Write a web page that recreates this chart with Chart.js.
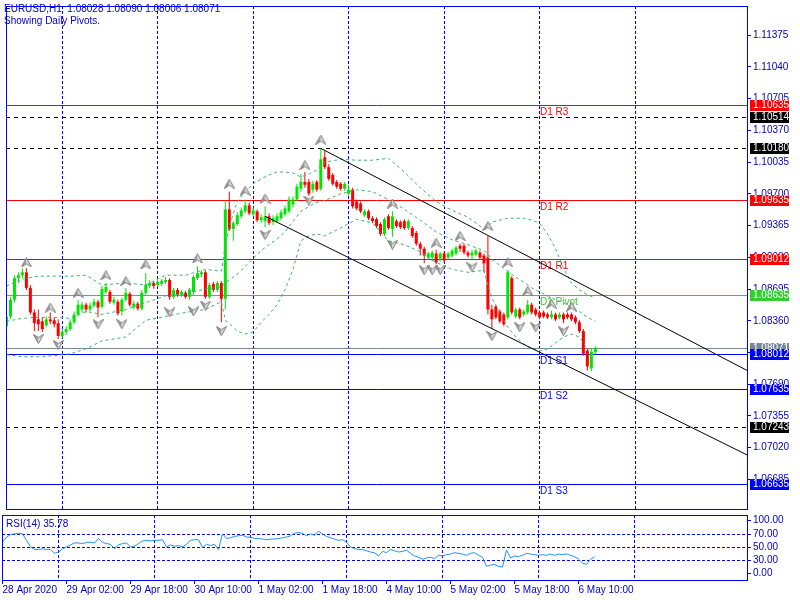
<!DOCTYPE html>
<html>
<head>
<meta charset="utf-8">
<script src="https://cdn.jsdelivr.net/npm/chart.js@4.4.1/dist/chart.umd.min.js"></script>
<style>
  html, body { margin: 0; padding: 0; background: #fff; }
  #wrap { position: relative; width: 800px; height: 600px; overflow: hidden; }
  canvas { position: absolute; left: 0; }
  #mainChart { top: 0; }
  #rsiChart { top: 514px; }
</style>
</head>
<body>
<div id="wrap">
  <canvas id="mainChart" width="800" height="515"></canvas>
  <canvas id="rsiChart" width="800" height="86"></canvas>
</div>
<script>
// ---- data (EURUSD H1, 28 Apr 10:00 .. 6 May 14:00) ----
const symbolTitle = "EURUSD,H1  1.08028 1.08090 1.08006 1.08071";
const subTitle = "Showing Daily Pivots.";
const rsiTitle = "RSI(14) 35.78";

const openPrices = [
  1.08302,1.08406,1.08582,1.08810,1.08841,1.08872,1.08707,1.08448,1.08375,1.08354,
  1.08313,1.08375,1.08365,1.08334,1.08199,1.08241,1.08272,1.08344,1.08427,1.08479,
  1.08530,1.08479,1.08520,1.08561,1.08510,1.08665,1.08665,1.08551,1.08561,1.08458,
  1.08582,1.08645,1.08500,1.08541,1.08489,1.08655,1.08728,1.08759,1.08738,1.08749,
  1.08769,1.08790,1.08613,1.08686,1.08634,1.08655,1.08613,1.08665,1.08810,1.08852,
  1.08872,1.08613,1.08749,1.08686,1.08759,1.08592,1.09536,1.09329,1.09381,1.09463,
  1.09515,1.09578,1.09484,1.09515,1.09422,1.09412,1.09463,1.09401,1.09412,1.09443,
  1.09484,1.09515,1.09588,1.09640,1.09754,1.09826,1.09826,1.09744,1.09826,1.09754,
  1.10086,1.09982,1.09899,1.09826,1.09806,1.09754,1.09702,1.09744,1.09619,1.09598,
  1.09474,1.09515,1.09443,1.09432,1.09381,1.09277,1.09463,1.09329,1.09412,1.09401,
  1.09412,1.09339,1.09339,1.09287,1.09173,1.09121,1.09028,1.09028,1.09070,1.09018,
  1.09070,1.09028,1.09049,1.09070,1.09152,1.09152,1.09080,1.09049,1.09059,1.09080,
  1.09049,1.09028,1.08479,1.08510,1.08458,1.08427,1.08396,1.08810,1.08406,1.08479,
  1.08427,1.08448,1.08530,1.08479,1.08448,1.08448,1.08427,1.08396,1.08427,1.08396,
  1.08427,1.08427,1.08427,1.08396,1.08344,1.08251,1.08043,1.07857,1.08028
];
const highPrices = [
  1.08438,1.08613,1.08841,1.08872,1.08914,1.08914,1.08738,1.08479,1.08479,1.08396,
  1.08406,1.08448,1.08396,1.08375,1.08272,1.08302,1.08375,1.08458,1.08582,1.08561,
  1.08551,1.08551,1.08592,1.08582,1.08728,1.08759,1.08686,1.08613,1.08582,1.08603,
  1.08707,1.08665,1.08572,1.08561,1.08686,1.08862,1.08790,1.08780,1.08790,1.08800,
  1.08821,1.08810,1.08707,1.08707,1.08686,1.08676,1.08707,1.08841,1.08935,1.08893,
  1.08893,1.08759,1.08769,1.08780,1.08780,1.09619,1.09723,1.09412,1.09505,1.09557,
  1.09640,1.09609,1.09557,1.09536,1.09484,1.09567,1.09494,1.09474,1.09494,1.09536,
  1.09578,1.09671,1.09671,1.09806,1.09909,1.09930,1.09858,1.09837,1.09847,1.10180,
  1.10158,1.10013,1.09920,1.09847,1.09826,1.09826,1.09795,1.09764,1.09640,1.09619,
  1.09536,1.09536,1.09463,1.09453,1.09401,1.09453,1.09484,1.09515,1.09432,1.09422,
  1.09432,1.09432,1.09360,1.09308,1.09194,1.09142,1.09090,1.09101,1.09111,1.09090,
  1.09090,1.09090,1.09121,1.09152,1.09173,1.09173,1.09101,1.09111,1.09121,1.09101,
  1.09070,1.09256,1.08530,1.08530,1.08479,1.08448,1.08893,1.08831,1.08500,1.08500,
  1.08479,1.08582,1.08551,1.08500,1.08469,1.08469,1.08448,1.08469,1.08448,1.08448,
  1.08448,1.08448,1.08448,1.08417,1.08365,1.08272,1.08064,1.08064,1.08090
];
const lowPrices = [
  1.08272,1.08375,1.08551,1.08759,1.08810,1.08686,1.08427,1.08251,1.08251,1.08241,
  1.08292,1.08323,1.08292,1.08168,1.08179,1.08210,1.08251,1.08323,1.08406,1.08448,
  1.08448,1.08458,1.08500,1.08396,1.08489,1.08645,1.08541,1.08530,1.08417,1.08417,
  1.08561,1.08510,1.08479,1.08469,1.08469,1.08634,1.08707,1.08697,1.08717,1.08728,
  1.08749,1.08582,1.08592,1.08613,1.08613,1.08592,1.08582,1.08634,1.08790,1.08821,
  1.08592,1.08592,1.08665,1.08665,1.08344,1.08479,1.09308,1.09204,1.09360,1.09443,
  1.09494,1.09474,1.09463,1.09401,1.09391,1.09349,1.09370,1.09370,1.09391,1.09422,
  1.09463,1.09494,1.09557,1.09619,1.09723,1.09764,1.09681,1.09712,1.09723,1.09733,
  1.09961,1.09837,1.09785,1.09754,1.09733,1.09733,1.09681,1.09546,1.09526,1.09494,
  1.09453,1.09422,1.09391,1.09339,1.09256,1.09256,1.09318,1.09246,1.09339,1.09329,
  1.09318,1.09318,1.09235,1.09152,1.09049,1.08966,1.09007,1.08987,1.08956,1.08987,
  1.08976,1.09007,1.09028,1.09049,1.09090,1.09059,1.09028,1.08997,1.09038,1.09007,
  1.08872,1.08427,1.08272,1.08375,1.08334,1.08302,1.08375,1.08427,1.08386,1.08375,
  1.08406,1.08427,1.08427,1.08406,1.08375,1.08386,1.08375,1.08375,1.08354,1.08375,
  1.08334,1.08375,1.08354,1.08323,1.08230,1.07991,1.07836,1.07826,1.08006
];
const closePrices = [
  1.08406,1.08582,1.08810,1.08841,1.08872,1.08707,1.08448,1.08334,1.08323,1.08272,
  1.08375,1.08354,1.08323,1.08199,1.08241,1.08272,1.08344,1.08427,1.08530,1.08530,
  1.08479,1.08520,1.08561,1.08500,1.08697,1.08717,1.08561,1.08582,1.08438,1.08582,
  1.08655,1.08530,1.08541,1.08489,1.08655,1.08738,1.08759,1.08728,1.08769,1.08780,
  1.08790,1.08613,1.08686,1.08634,1.08665,1.08613,1.08686,1.08821,1.08862,1.08872,
  1.08613,1.08738,1.08686,1.08759,1.08592,1.09536,1.09329,1.09391,1.09474,1.09526,
  1.09578,1.09494,1.09526,1.09422,1.09453,1.09463,1.09391,1.09443,1.09463,1.09505,
  1.09546,1.09640,1.09640,1.09775,1.09826,1.09795,1.09702,1.09806,1.09744,1.10065,
  1.09982,1.09858,1.09806,1.09775,1.09754,1.09806,1.09744,1.09567,1.09546,1.09515,
  1.09515,1.09443,1.09412,1.09360,1.09277,1.09432,1.09339,1.09463,1.09360,1.09349,
  1.09339,1.09412,1.09256,1.09173,1.09121,1.09049,1.09070,1.09080,1.08976,1.09070,
  1.08997,1.09070,1.09101,1.09132,1.09121,1.09080,1.09049,1.09080,1.09101,1.09028,
  1.08966,1.08479,1.08375,1.08396,1.08354,1.08323,1.08872,1.08448,1.08479,1.08396,
  1.08458,1.08530,1.08448,1.08427,1.08396,1.08406,1.08396,1.08427,1.08375,1.08427,
  1.08375,1.08396,1.08375,1.08344,1.08251,1.08012,1.07878,1.08033,1.08071
];

// bollinger bands, read at these bars
const bandBars = [0,4,8,12,16,20,24,30,35,40,45,50,54,55,56,58,60,62,64,66,68,70,72,74,76,78,80,84,88,92,
  96,100,104,108,112,116,120,121,122,124,126,128,130,132,134,136,138,140,142,144,146,148];
const upperBand = [1.08727,1.08800,1.08831,1.08831,1.08831,1.08841,1.08738,1.08759,1.08738,1.08841,
  1.08841,1.08903,1.08883,1.09152,1.09360,1.09619,1.09723,1.09806,1.09857,1.09899,
  1.09930,1.09930,1.09920,1.09878,1.09909,1.09951,1.10034,1.10065,1.10055,1.10055,
  1.10075,1.09930,1.09764,1.09619,1.09526,1.09453,1.09329,1.09360,1.09401,1.09422,
  1.09443,1.09443,1.09443,1.09422,1.09391,1.09277,1.09121,1.08914,1.08759,1.08686,
  1.08634,1.08603];
const middleBand = [1.08354,1.08386,1.08396,1.08396,1.08386,1.08458,1.08427,1.08479,1.08551,1.08624,
  1.08644,1.08696,1.08717,1.08759,1.08790,1.08852,1.08934,1.09018,1.09101,1.09163,
  1.09225,1.09298,1.09412,1.09515,1.09567,1.09609,1.09629,1.09702,1.09743,1.09723,
  1.09640,1.09536,1.09422,1.09298,1.09215,1.09163,1.09101,1.09070,1.09007,1.08945,
  1.08883,1.08821,1.08769,1.08707,1.08665,1.08624,1.08582,1.08551,1.08499,1.08458,
  1.08396,1.08354];
const lowerBand = [1.08002,1.07981,1.07981,1.07991,1.08012,1.08064,1.08148,1.08189,1.08365,1.08406,
  1.08448,1.08479,1.08561,1.08365,1.08334,1.08251,1.08220,1.08241,1.08344,1.08427,
  1.08530,1.08686,1.08903,1.09204,1.09256,1.09277,1.09256,1.09339,1.09432,1.09391,
  1.09204,1.09163,1.09090,1.08976,1.08903,1.08872,1.08893,1.08738,1.08603,1.08437,
  1.08292,1.08189,1.08116,1.08064,1.08043,1.08064,1.08126,1.08189,1.08220,1.08189,
  1.08064,1.07981];

// fractals
const fractalUpBars = [5,11,18,25,30,35,48,56,60,65,75,79,97,108,114,121,126,131,137,142];
const fractalUpPrices = [1.08976,1.08500,1.08655,1.08841,1.08780,1.08955,1.09018,1.09806,1.09733,1.09650,
  1.10003,1.10272,1.09598,1.09184,1.09256,1.09360,1.08976,1.08676,1.08541,1.08510];
const fractalDownBars = [8,13,23,29,41,47,50,54,65,76,97,105,107,109,117,122,129,133,140];
const fractalDownPrices = [1.08168,1.08105,1.08323,1.08323,1.08448,1.08458,1.08520,1.08251,1.09266,1.09629,
  1.09163,1.08893,1.08893,1.08893,1.08924,1.08199,1.08292,1.08292,1.08251];

// trend channel
const channelUpperBars = [79, 186.125];
const channelUpperPrices = [1.10180, 1.07836];
const channelLowerBars = [65, 186.125];
const channelLowerPrices = [1.09463, 1.06944];

// horizontal levels
const levelPrices = [1.10635, 1.10514, 1.10180, 1.09635, 1.09012, 1.08635, 1.08071, 1.08012, 1.07635, 1.07243, 1.06635];
const levelNames = ["D1 R3", "", "", "D1 R2", "D1 R1", "D1 Pivot", "", "D1 S1", "D1 S2", "", "D1 S3"];
const levelLabelBar = 134;

const priceTicks = [1.11375, 1.11040, 1.10705, 1.10370, 1.10035, 1.09700, 1.09365, 1.09030,
  1.08695, 1.08360, 1.08025, 1.07690, 1.07355, 1.07020, 1.06685];
const daySeparators = [14, 38, 62, 86, 110, 134, 158];
const timeLabelBars = [0, 16, 32, 48, 64, 80, 96, 112, 128, 144];
const timeLabels = ["28 Apr 2020", "29 Apr 02:00", "29 Apr 18:00", "30 Apr 10:00", "1 May 02:00",
  "1 May 18:00", "4 May 10:00", "5 May 02:00", "5 May 18:00", "6 May 10:00"];

const rsiValues = [
  58,66,70,71,72,71,61,51,47,47, 48,47,47,41,43,48,51,54,57,57,
  56,58,58,57,64,58,56,55,48,54, 56,57,51,52,56,60,61,60,61,61,
  62,51,54,52,53,51,55,61,62,62, 50,55,53,55,47,71,64,65,67,68,
  69,66,66,64,64,63,62,63,63,64, 65,66,68,72,73,72,68,71,69,75,
  71,67,65,63,61,62,58,51,48,47, 47,45,43,42,37,44,42,47,45,43,
  44,46,41,37,35,32,34,35,33,38, 37,39,40,42,41,40,38,41,42,38,
  35,21,23,24,21,20,46,34,37,36, 38,41,40,39,38,39,38,40,38,40,
  39,40,38,36,32,26,24,32,35.78
];
const rsiLevels = [30, 50, 70];
const rsiEdgeLabels = [100, 0];

// ---- styles ----
const BLUE = "#0000ff";
const TEXT = "#0000c0";
const BULL = "#00e600";
const BEAR = "#ff0000";
const BAND = "#3cb371";
const xMin = -0.125, xMax = 186.125;
const priceMin = 1.06373, priceMax = 1.11683;
const levelStyles = [
  { color: "#ff0000", dash: [], box: "#ff0000" },
  { color: "#000000", dash: [4, 4], box: "#000000" },
  { color: "#000000", dash: [4, 4], box: "#000000" },
  { color: "#ff0000", dash: [], box: "#ff0000" },
  { color: "#ff0000", dash: [], box: "#ff0000" },
  { color: "#32cd32", dash: [], box: "#32cd32" },
  { color: "#778899", dash: [], box: "#778899" },
  { color: "#0000ff", dash: [], box: "#0000ff" },
  { color: "#0000ff", dash: [], box: "#0000ff" },
  { color: "#000000", dash: [4, 4], box: "#000000" },
  { color: "#0000ff", dash: [], box: "#0000ff" }
];

// narrow face if it is there, it is closest to the terminal's font
function pickFont() {
  const g = document.createElement("canvas").getContext("2d");
  g.font = "11px 'Liberation Sans Narrow', monospace";
  const a = g.measureText("1.11375 EURUSD").width;
  g.font = "11px monospace";
  const b = g.measureText("1.11375 EURUSD").width;
  return a !== b
    ? { family: "'Liberation Sans Narrow', 'Liberation Sans', sans-serif", size: 11 }
    : { family: "'Liberation Sans', Arial, sans-serif", size: 10 };
}
const UIFONT = pickFont();
const FONT = UIFONT.size + "px " + UIFONT.family;

Chart.defaults.font.family = UIFONT.family;
Chart.defaults.font.size = UIFONT.size;
Chart.defaults.color = TEXT;

const bars = closePrices.map((_, i) => i);
const candleColors = bars.map(i => closePrices[i] >= openPrices[i] ? BULL : BEAR);

function makeArrowIcon(up) {
  const c = document.createElement("canvas");
  c.width = 11; c.height = 10;
  const g = c.getContext("2d");
  if (!up) { g.translate(0, 10); g.scale(1, -1); }
  g.fillStyle = "#a0a0a0";
  g.beginPath(); g.moveTo(5.5, 0.5); g.lineTo(5.5, 6.5); g.lineTo(0.5, 9.5); g.closePath(); g.fill();
  g.fillStyle = "#dcdcdc";
  g.beginPath(); g.moveTo(5.5, 0.5); g.lineTo(10.5, 9.5); g.lineTo(5.5, 6.5); g.closePath(); g.fill();
  g.strokeStyle = "#787878"; g.lineWidth = 1;
  g.beginPath(); g.moveTo(5.5, 0.5); g.lineTo(10.5, 9.5); g.lineTo(5.5, 6.5); g.lineTo(0.5, 9.5); g.closePath(); g.stroke();
  return c;
}
const upIcon = makeArrowIcon(true);
const downIcon = makeArrowIcon(false);

function bandDataset(values) {
  return {
    type: "line",
    data: bandBars.map((b, k) => ({ x: b, y: values[k] })),
    borderColor: BAND, borderWidth: 1, borderDash: [3, 3],
    pointRadius: 0, tension: 0, order: 3
  };
}
function channelDataset(barsArr, prices) {
  return {
    type: "line",
    data: barsArr.map((b, k) => ({ x: b, y: prices[k] })),
    borderColor: "#000000", borderWidth: 1, pointRadius: 0, tension: 0, order: 2
  };
}
function fractalDataset(barsArr, prices, icon) {
  return {
    type: "line", showLine: false,
    data: barsArr.map((b, k) => ({ x: b, y: prices[k] })),
    pointStyle: icon, pointRadius: 5, pointHoverRadius: 5, order: 1
  };
}

// levels under the candles
const levelPlugin = {
  id: "levels",
  beforeDatasetsDraw(chart) {
    const { ctx, chartArea: a, scales: { x, y } } = chart;
    ctx.save();
    ctx.beginPath();
    ctx.rect(a.left, a.top, a.right - a.left, a.bottom - a.top);
    ctx.clip();
    ctx.lineWidth = 1;
    levelPrices.forEach((p, k) => {
      const py = Math.round(y.getPixelForValue(p)) + 0.5;
      ctx.strokeStyle = levelStyles[k].color;
      ctx.setLineDash(levelStyles[k].dash);
      ctx.beginPath(); ctx.moveTo(a.left, py); ctx.lineTo(a.right, py); ctx.stroke();
      if (levelNames[k]) {
        ctx.fillStyle = levelStyles[k].color;
        ctx.font = FONT;
        ctx.textBaseline = "alphabetic";
        ctx.fillText(levelNames[k], Math.round(x.getPixelForValue(levelLabelBar)), py + 9);
      }
    });
    ctx.restore();
  }
};

// frame, header and price boxes
const mainOverlay = {
  id: "mainOverlay",
  afterDraw(chart) {
    const { ctx, chartArea: a, scales: { y } } = chart;
    ctx.save();
    ctx.setLineDash([]);
    ctx.strokeStyle = BLUE; ctx.lineWidth = 1;
    ctx.strokeRect(a.left + 0.5, a.top + 0.5, a.right - a.left, a.bottom - a.top);
    ctx.font = FONT;
    ctx.fillStyle = TEXT;
    ctx.textBaseline = "alphabetic";
    ctx.fillText(symbolTitle, 4, 12);
    ctx.fillText(subTitle, 4, 24);
    ctx.textBaseline = "middle";
    levelPrices.forEach((p, k) => {
      const py = Math.round(y.getPixelForValue(p));
      ctx.fillStyle = levelStyles[k].box;
      ctx.fillRect(a.right + 3, py - 5, 39, 11);
      ctx.fillStyle = "#ffffff";
      ctx.fillText(p.toFixed(5), a.right + 6, py + 0.5);
    });
    ctx.restore();
  }
};

new Chart(document.getElementById("mainChart"), {
  type: "bar",
  data: {
    datasets: [
      {
        label: "wicks",
        data: bars.map(i => ({ x: i, y: [lowPrices[i], highPrices[i]] })),
        backgroundColor: candleColors, borderWidth: 0, barThickness: 1,
        grouped: false, minBarLength: 1, inflateAmount: 0, order: 5
      },
      {
        label: "bodies",
        data: bars.map(i => ({ x: i, y: [openPrices[i], closePrices[i]] })),
        backgroundColor: candleColors, borderWidth: 0, barThickness: 3,
        grouped: false, minBarLength: 1, inflateAmount: 0, order: 4
      },
      bandDataset(upperBand),
      bandDataset(middleBand),
      bandDataset(lowerBand),
      channelDataset(channelUpperBars, channelUpperPrices),
      channelDataset(channelLowerBars, channelLowerPrices),
      fractalDataset(fractalUpBars, fractalUpPrices, upIcon),
      fractalDataset(fractalDownBars, fractalDownPrices, downIcon)
    ]
  },
  options: {
    responsive: false,
    animation: false,
    devicePixelRatio: 1,
    events: [],
    layout: { padding: { left: 2, top: 1, right: 0, bottom: 2 } },
    plugins: { legend: { display: false }, tooltip: { enabled: false } },
    scales: {
      x: {
        type: "linear", position: "bottom", min: xMin, max: xMax, offset: false, bounds: "data",
        afterBuildTicks: s => { s.ticks = daySeparators.map(v => ({ value: v })); },
        ticks: { display: false },
        grid: { offset: false, color: BLUE, lineWidth: 1, drawTicks: false, drawOnChartArea: true },
        border: { display: false, dash: [3, 2] },
        afterFit: s => { s.height = 0; s.paddingLeft = 0; s.paddingRight = 0; }
      },
      y: {
        type: "linear", position: "right", min: priceMin, max: priceMax, bounds: "data",
        afterBuildTicks: s => { s.ticks = priceTicks.map(v => ({ value: v })); },
        ticks: { color: TEXT, padding: 2, autoSkip: false, callback: v => Number(v).toFixed(5) },
        grid: { drawOnChartArea: false, drawTicks: true, tickLength: 4, color: BLUE, tickColor: BLUE },
        border: { display: false },
        afterFit: s => { s.width = 53; s.paddingTop = 0; s.paddingBottom = 0; }
      }
    }
  },
  plugins: [levelPlugin, mainOverlay]
});

// ---- RSI panel with time axis ----
const rsiOverlay = {
  id: "rsiOverlay",
  afterDraw(chart) {
    const { ctx, chartArea: a, scales: { y } } = chart;
    ctx.save();
    ctx.setLineDash([]);
    ctx.strokeStyle = BLUE; ctx.lineWidth = 1;
    ctx.strokeRect(a.left + 0.5, a.top + 0.5, a.right - a.left, a.bottom - a.top);
    ctx.font = FONT;
    ctx.fillStyle = TEXT;
    ctx.textBaseline = "alphabetic";
    ctx.fillText(rsiTitle, 6, 13);
    ctx.textBaseline = "middle";
    rsiEdgeLabels.forEach(v => {
      const py = Math.round(Math.min(Math.max(y.getPixelForValue(v), a.top + 5), a.bottom - 7));
      ctx.beginPath(); ctx.moveTo(a.right, py + 0.5); ctx.lineTo(a.right + 4, py + 0.5); ctx.stroke();
      ctx.fillText(v.toFixed(2), a.right + 6, py + 0.5);
    });
    ctx.restore();
  }
};

new Chart(document.getElementById("rsiChart"), {
  type: "line",
  data: {
    datasets: [{
      data: bars.map(i => ({ x: i, y: rsiValues[i] })),
      borderColor: "#1e90ff", borderWidth: 1, pointRadius: 0, tension: 0
    }]
  },
  options: {
    responsive: false,
    animation: false,
    devicePixelRatio: 1,
    events: [],
    layout: { padding: { left: 2, top: 1, right: 0, bottom: 0 } },
    plugins: { legend: { display: false }, tooltip: { enabled: false } },
    scales: {
      x: {
        type: "linear", position: "bottom", weight: 0, min: xMin, max: xMax, offset: false, bounds: "data",
        afterBuildTicks: s => { s.ticks = daySeparators.map(v => ({ value: v })); },
        ticks: { display: false },
        grid: { offset: false, color: BLUE, lineWidth: 1, drawTicks: false, drawOnChartArea: true },
        border: { display: false, dash: [3, 2] },
        afterFit: s => { s.height = 0; s.paddingLeft = 0; s.paddingRight = 0; }
      },
      x2: {
        type: "linear", position: "bottom", weight: 1, min: xMin, max: xMax, offset: false, bounds: "data",
        afterBuildTicks: s => { s.ticks = timeLabelBars.map(v => ({ value: v })); },
        ticks: {
          display: true, autoSkip: false, maxRotation: 0, minRotation: 0, align: "start",
          padding: 0, color: TEXT, callback: (v, k) => timeLabels[k]
        },
        grid: { offset: false, drawOnChartArea: false, drawTicks: true, tickLength: 4, color: BLUE, tickColor: BLUE },
        border: { display: false },
        afterFit: s => { s.height = 20; s.paddingLeft = 0; s.paddingRight = 0; }
      },
      y: {
        type: "linear", position: "right", min: 0, max: 100, bounds: "data",
        afterBuildTicks: s => { s.ticks = rsiLevels.map(v => ({ value: v })); },
        ticks: { color: TEXT, padding: 2, autoSkip: false, callback: v => Number(v).toFixed(2) },
        grid: { drawOnChartArea: true, drawTicks: true, tickLength: 4, color: BLUE, tickColor: BLUE },
        border: { display: false, dash: [3, 2] },
        afterFit: s => { s.width = 53; s.paddingTop = 0; s.paddingBottom = 0; }
      }
    }
  },
  plugins: [rsiOverlay]
});
</script>
</body>
</html>
